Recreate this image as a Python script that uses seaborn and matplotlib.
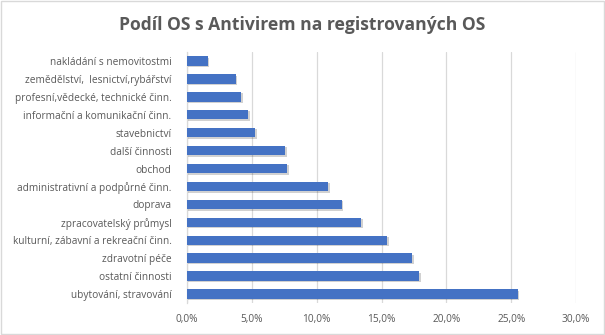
import matplotlib
matplotlib.use("Agg")
import matplotlib.pyplot as plt
import matplotlib.patheffects as pe
from matplotlib.ticker import FuncFormatter, MultipleLocator
import seaborn as sns
import pandas as pd

categories = [
    "nakládání s nemovitostmi",
    "zemědělství,  lesnictví,rybářství",
    "profesní,vědecké, technické činn.",
    "informační a komunikační činn.",
    "stavebnictví",
    "další činnosti",
    "obchod",
    "administrativní a podpůrné činn.",
    "doprava",
    "zpracovatelský průmysl",
    "kulturní, zábavní a rekreační činn.",
    "zdravotní péče",
    "ostatní činnosti",
    "ubytování, stravování",
]
values = [1.64, 3.78, 4.2, 4.73, 5.27, 7.59, 7.74, 10.9, 11.96, 13.45, 15.45, 17.38, 17.92, 25.48]
title = "Podíl OS s Antivirem na registrovaných OS"

df = pd.DataFrame({"kategorie": categories, "podil": values})

sns.set_theme(style="white")
plt.rcParams["font.family"] = ["Open Sans", "DejaVu Sans"]

fig = plt.figure(figsize=(6.05, 3.35), dpi=100)
ax = fig.add_axes([0.3088, 0.0955, 0.6436, 0.7493])

sns.barplot(data=df, x="podil", y="kategorie", orient="h", color="#4472C4",
            saturation=1, width=0.53, linewidth=0, ax=ax, zorder=3)
for p in ax.patches:
    p.set_linewidth(0)
    p.set_path_effects([pe.SimplePatchShadow(offset=(1.0, -1.0), shadow_rgbFace="#000000", alpha=0.18),
                        pe.Normal()])

ax.set_xlim(0, 30)
ax.xaxis.set_major_locator(MultipleLocator(5))
ax.xaxis.set_major_formatter(FuncFormatter(lambda v, p: f"{v:.1f}%".replace(".", ",")))
ax.grid(axis="x", color="#d9d9d9", linewidth=0.9, zorder=0)
ax.set_axisbelow(True)
for s in ["top", "right", "bottom"]:
    ax.spines[s].set_visible(False)
ax.spines["left"].set_color("#d9d9d9")
ax.spines["left"].set_linewidth(0.9)
ax.set_xlabel("")
ax.set_ylabel("")
ax.tick_params(axis="both", length=0, labelsize=7.3, labelcolor="#595959")
ax.tick_params(axis="y", pad=11)
ax.tick_params(axis="x", pad=8)

fig.text(0.5, 0.925, title, ha="center", va="center", fontsize=12.6,
         fontweight="bold", color="#595959")

fig.patches.append(plt.Rectangle((0.002, 0.003), 0.996, 0.994, transform=fig.transFigure,
                                 fill=False, edgecolor="#d9d9d9", linewidth=1))

fig.savefig("out.png", dpi=100)
